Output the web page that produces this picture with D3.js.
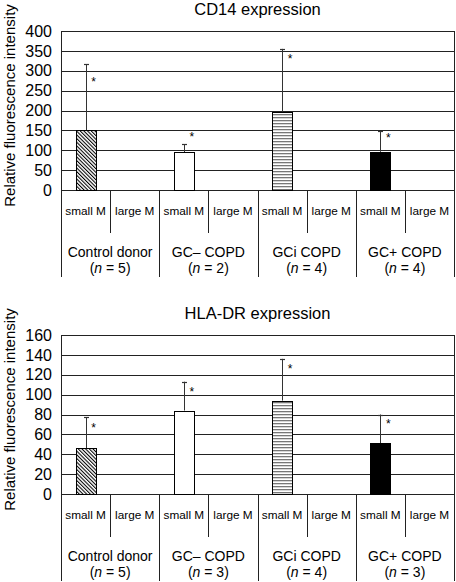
<!DOCTYPE html>
<html><head><meta charset="utf-8">
<script src="https://cdn.jsdelivr.net/npm/d3@7"></script>
<style>
html,body{margin:0;padding:0;background:#fff;}
svg{display:block;font-family:"Liberation Sans",Arial,sans-serif;}
</style></head>
<body>
<svg id="chart" width="456" height="582"></svg>
<script>
const categories = ["Control donor", "GC\u2013 COPD", "GCi COPD", "GC+ COPD"];
const subgroups = ["small M", "large M"];
const cd14N = [5, 2, 4, 4];
const cd14Values = [150, 95, 197, 96];
const cd14Errors = [166, 20, 158, 52];
const cd14Stars = [277, 138, 335, 136];
const cd14Ticks = [0, 50, 100, 150, 200, 250, 300, 350, 400];
const hlaN = [5, 3, 4, 3];
const hlaValues = [46, 84, 94, 51];
const hlaErrors = [31, 29, 42, 29];
const hlaStars = [68, 105, 128, 72];
const hlaTicks = [0, 20, 40, 60, 80, 100, 120, 140, 160];
const fills = ["url(#diag)", "#ffffff", "url(#hstripe)", "#000000"];

const svg = d3.select("#chart");
const defs = svg.append("defs");
const pd = defs.append("pattern").attr("id", "diag").attr("patternUnits", "userSpaceOnUse")
  .attr("width", 2.6).attr("height", 3).attr("patternTransform", "rotate(-45)");
pd.append("rect").attr("width", 2.6).attr("height", 3).attr("fill", "#fff");
pd.append("line").attr("x1", 0.5).attr("y1", 0).attr("x2", 0.5).attr("y2", 3)
  .attr("stroke", "#000").attr("stroke-width", 1.1);
const ph = defs.append("pattern").attr("id", "hstripe").attr("patternUnits", "userSpaceOnUse")
  .attr("width", 4).attr("height", 3);
ph.append("rect").attr("width", 4).attr("height", 3).attr("fill", "#fff");
ph.append("rect").attr("y", 0).attr("width", 4).attr("height", 1.3).attr("fill", "#777");

const left = 61, right = 454;

function drawPanel(opt) {
  const g = svg.append("g");
  const y = d3.scaleLinear().domain([0, opt.ticks[opt.ticks.length - 1]]).range([opt.y0, opt.yTop]);
  const x = d3.scaleBand().domain(categories).range([left, right]).padding(0);
  const xs = d3.scaleBand().domain(subgroups).range([0, x.bandwidth()]).padding(0);

  // title
  g.append("text").attr("x", (left + right) / 2).attr("y", opt.yTop - 16)
    .attr("text-anchor", "middle").attr("font-size", 16.5).text(opt.title);

  // y label
  g.append("text").attr("transform", `translate(15,${(opt.y0 + opt.yTop) / 2 - 5}) rotate(-90)`)
    .attr("text-anchor", "middle").attr("font-size", 15).text("Relative fluorescence intensity");

  // grid
  g.selectAll(".grid").data(opt.ticks).join("line")
    .attr("x1", left).attr("x2", right).attr("y1", d => Math.round(y(d)) + 0.5).attr("y2", d => Math.round(y(d)) + 0.5)
    .attr("stroke", "#222").attr("stroke-width", 1);

  // y axis tick labels
  const ax = d3.axisLeft(y).tickValues(opt.ticks).tickSize(0).tickPadding(9);
  const axg = g.append("g").attr("transform", `translate(${left},0)`).call(ax);
  axg.select(".domain").remove();
  axg.selectAll("text").attr("font-size", 16).attr("fill", "#000")
    .attr("font-family", "'Liberation Sans',Arial,sans-serif");

  // vertical lines: categories
  const catEdges = categories.map(c => x(c)).concat([right]);
  g.selectAll(".cl").data(catEdges).join("line")
    .attr("x1", d => Math.round(d) + 0.5).attr("x2", d => Math.round(d) + 0.5)
    .attr("y1", (d, i) => (i === 0 || i === catEdges.length - 1) ? opt.yTop : opt.y0)
    .attr("y2", opt.y0 + 87).attr("stroke", "#222");
  // sub dividers
  g.selectAll(".sl").data(categories).join("line")
    .attr("x1", c => Math.round(x(c) + xs("large M")) + 0.5).attr("x2", c => Math.round(x(c) + xs("large M")) + 0.5)
    .attr("y1", opt.y0).attr("y2", opt.y0 + 43).attr("stroke", "#222");

  // sub labels
  categories.forEach(c => {
    subgroups.forEach(s => {
      g.append("text").attr("x", x(c) + xs(s) + xs.bandwidth() / 2).attr("y", opt.y0 + 25)
        .attr("text-anchor", "middle").attr("font-size", 11.8).text(s);
    });
  });
  // category labels
  categories.forEach((c, i) => {
    g.append("text").attr("x", x(c) + x.bandwidth() / 2).attr("y", opt.y0 + 67)
      .attr("text-anchor", "middle").attr("font-size", 14).text(c);
    const t = g.append("text").attr("x", x(c) + x.bandwidth() / 2).attr("y", opt.y0 + 83)
      .attr("text-anchor", "middle").attr("font-size", 14);
    t.append("tspan").text("(");
    t.append("tspan").attr("font-style", "italic").text("n");
    t.append("tspan").text(" = " + opt.n[i] + ")");
  });

  // bars
  const bw = 20;
  const cx = c => x(c) + xs("small M") + xs.bandwidth() / 2;
  categories.forEach((c, i) => {
    const v = opt.values[i];
    const top = y(v);
    const et = y(v + opt.errors[i]);
    g.append("line").attr("x1", Math.round(cx(c)) + 0.5).attr("x2", Math.round(cx(c)) + 0.5)
      .attr("y1", top).attr("y2", et).attr("stroke", "#333");
    g.append("line").attr("x1", Math.round(cx(c)) - 2).attr("x2", Math.round(cx(c)) + 3)
      .attr("y1", Math.round(et) + 0.5).attr("y2", Math.round(et) + 0.5).attr("stroke", "#333").attr("stroke-width", 1.2);
    g.append("rect").attr("x", Math.round(cx(c) - bw / 2) + 0.5).attr("y", Math.round(top) + 0.5)
      .attr("width", bw).attr("height", Math.round(opt.y0) - Math.round(top))
      .attr("fill", fills[i]).attr("stroke", "#000").attr("stroke-width", 1);
    g.append("text").attr("x", cx(c) + 8).attr("y", y(opt.stars[i]) + 6)
      .attr("text-anchor", "middle").attr("font-size", 12).text("*");
  });
}

drawPanel({title: "CD14 expression", ticks: cd14Ticks, values: cd14Values, errors: cd14Errors,
  stars: cd14Stars, n: cd14N, yTop: 31, y0: 190});
drawPanel({title: "HLA-DR expression", ticks: hlaTicks, values: hlaValues, errors: hlaErrors,
  stars: hlaStars, n: hlaN, yTop: 335, y0: 494});
</script>
</body></html>
